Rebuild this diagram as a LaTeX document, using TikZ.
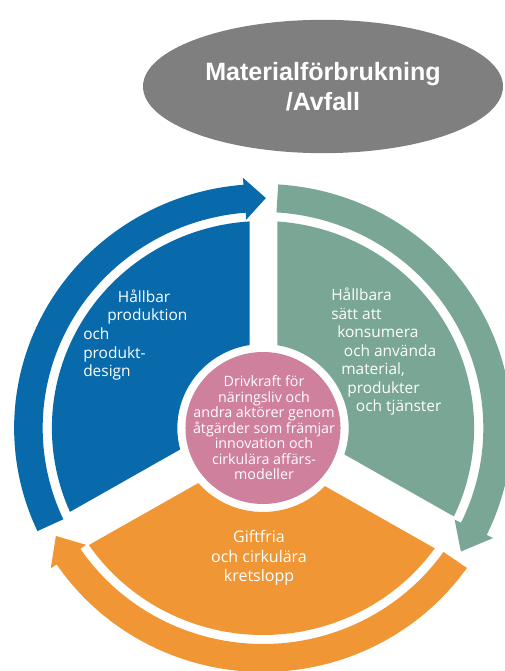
\documentclass[tikz,border=0pt]{standalone}
\usepackage{fontspec}
\setmainfont{Open Sans}
\newfontfamily\titlefont{Liberation Sans}
\usetikzlibrary{shapes.geometric}
\definecolor{cycleblue}{RGB}{8,106,170}
\definecolor{cyclegreen}{RGB}{122,166,150}
\definecolor{cycleorange}{RGB}{241,150,52}
\definecolor{cyclepink}{RGB}{206,128,157}
\definecolor{titlegray}{RGB}{127,127,127}
% ring piece between two gap lines (ray:offset:ray:offset)
\def\ringpiece[#1](#2:#3:#4:#5){\fill[#1] ({#2+asin(#3/207)}:207) arc ({#2+asin(#3/207)}:{#4-asin(#5/207)}:207) -- ({#4-asin(#5/84)}:84) arc ({#4-asin(#5/84)}:{#2+asin(#3/84)}:84) -- cycle;}
% arrow band (tail:head base:tip), clockwise
\def\ringarrow[#1](#2:#3:#4){\fill[#1] (#2:216) arc (#2:#3:216) -- (#3:209) -- (#4:230) -- (#3:251) -- (#3:244) arc (#3:#2:244) -- cycle;}
\tikzset{
  titleblob/.style={ellipse, fill=titlegray, inner sep=0pt, minimum width=270pt, minimum height=100pt,
    text=white, align=center, font=\titlefont\bfseries\fontsize{18.8}{22.5}\selectfont},
  ringtext/.style={text=white, inner sep=0pt, align=left, font=\fontsize{11.6}{13.9}\selectfont},
  hubtext/.style={text=white, inner sep=0pt, align=center, font=\fontsize{10.7}{11.6}\selectfont}
}
\begin{document}
\begin{tikzpicture}[x=0.75pt, y=0.75pt]
	%%%%% START %%%%%
	\useasboundingbox (0,0) rectangle (504,671);
	
	\node[titleblob] (title) at (323,584.5) {Materialförbrukning\\/Avfall};
	
	\begin{scope}[shift={(263,243)}, xscale=1.02]
		\ringpiece[cycleblue](90:13:210:22)
		\ringpiece[cycleorange](210:16:330:20)
		\ringpiece[cyclegreen](-30:17:90:14)
		
		\ringarrow[cycleblue](205:94.5:89.3)
		\ringarrow[cyclegreen](86.5:-26:-32.5)
		\ringarrow[cycleorange](-35:-146:-152)
		
		\fill[cyclepink] (0,0) circle (76);
	\end{scope}
	
	% base anchor = last line
	\node[ringtext, anchor=base west] (design) at (83,294.4)
		{\hspace*{26pt}Hållbar\\\hspace*{18pt}produktion\\och\\produkt-\\design};
	\node[ringtext, anchor=base west] (consume) at (331,259.3)
		{Hållbara\\sätt att\\\hspace*{4.5pt}konsumera\\\hspace*{9.5pt}och använda\\\hspace*{7.5pt}material,\\\hspace*{12pt}produkter\\\hspace*{18.5pt}och tjänster};
	\node[ringtext, align=center, font=\fontsize{12}{14.6}\selectfont] (loops) at (259,113)
		{Giftfria\\och cirkulära\\kretslopp};
	\node[hubtext] (drive) at (264,243)
		{Drivkraft för\\näringsliv och\\andra aktörer genom\\åtgärder som främjar\\innovation och\\cirkulära affärs-\\modeller};
	
	%%%%% END %%%%%
\end{tikzpicture}
\end{document}
